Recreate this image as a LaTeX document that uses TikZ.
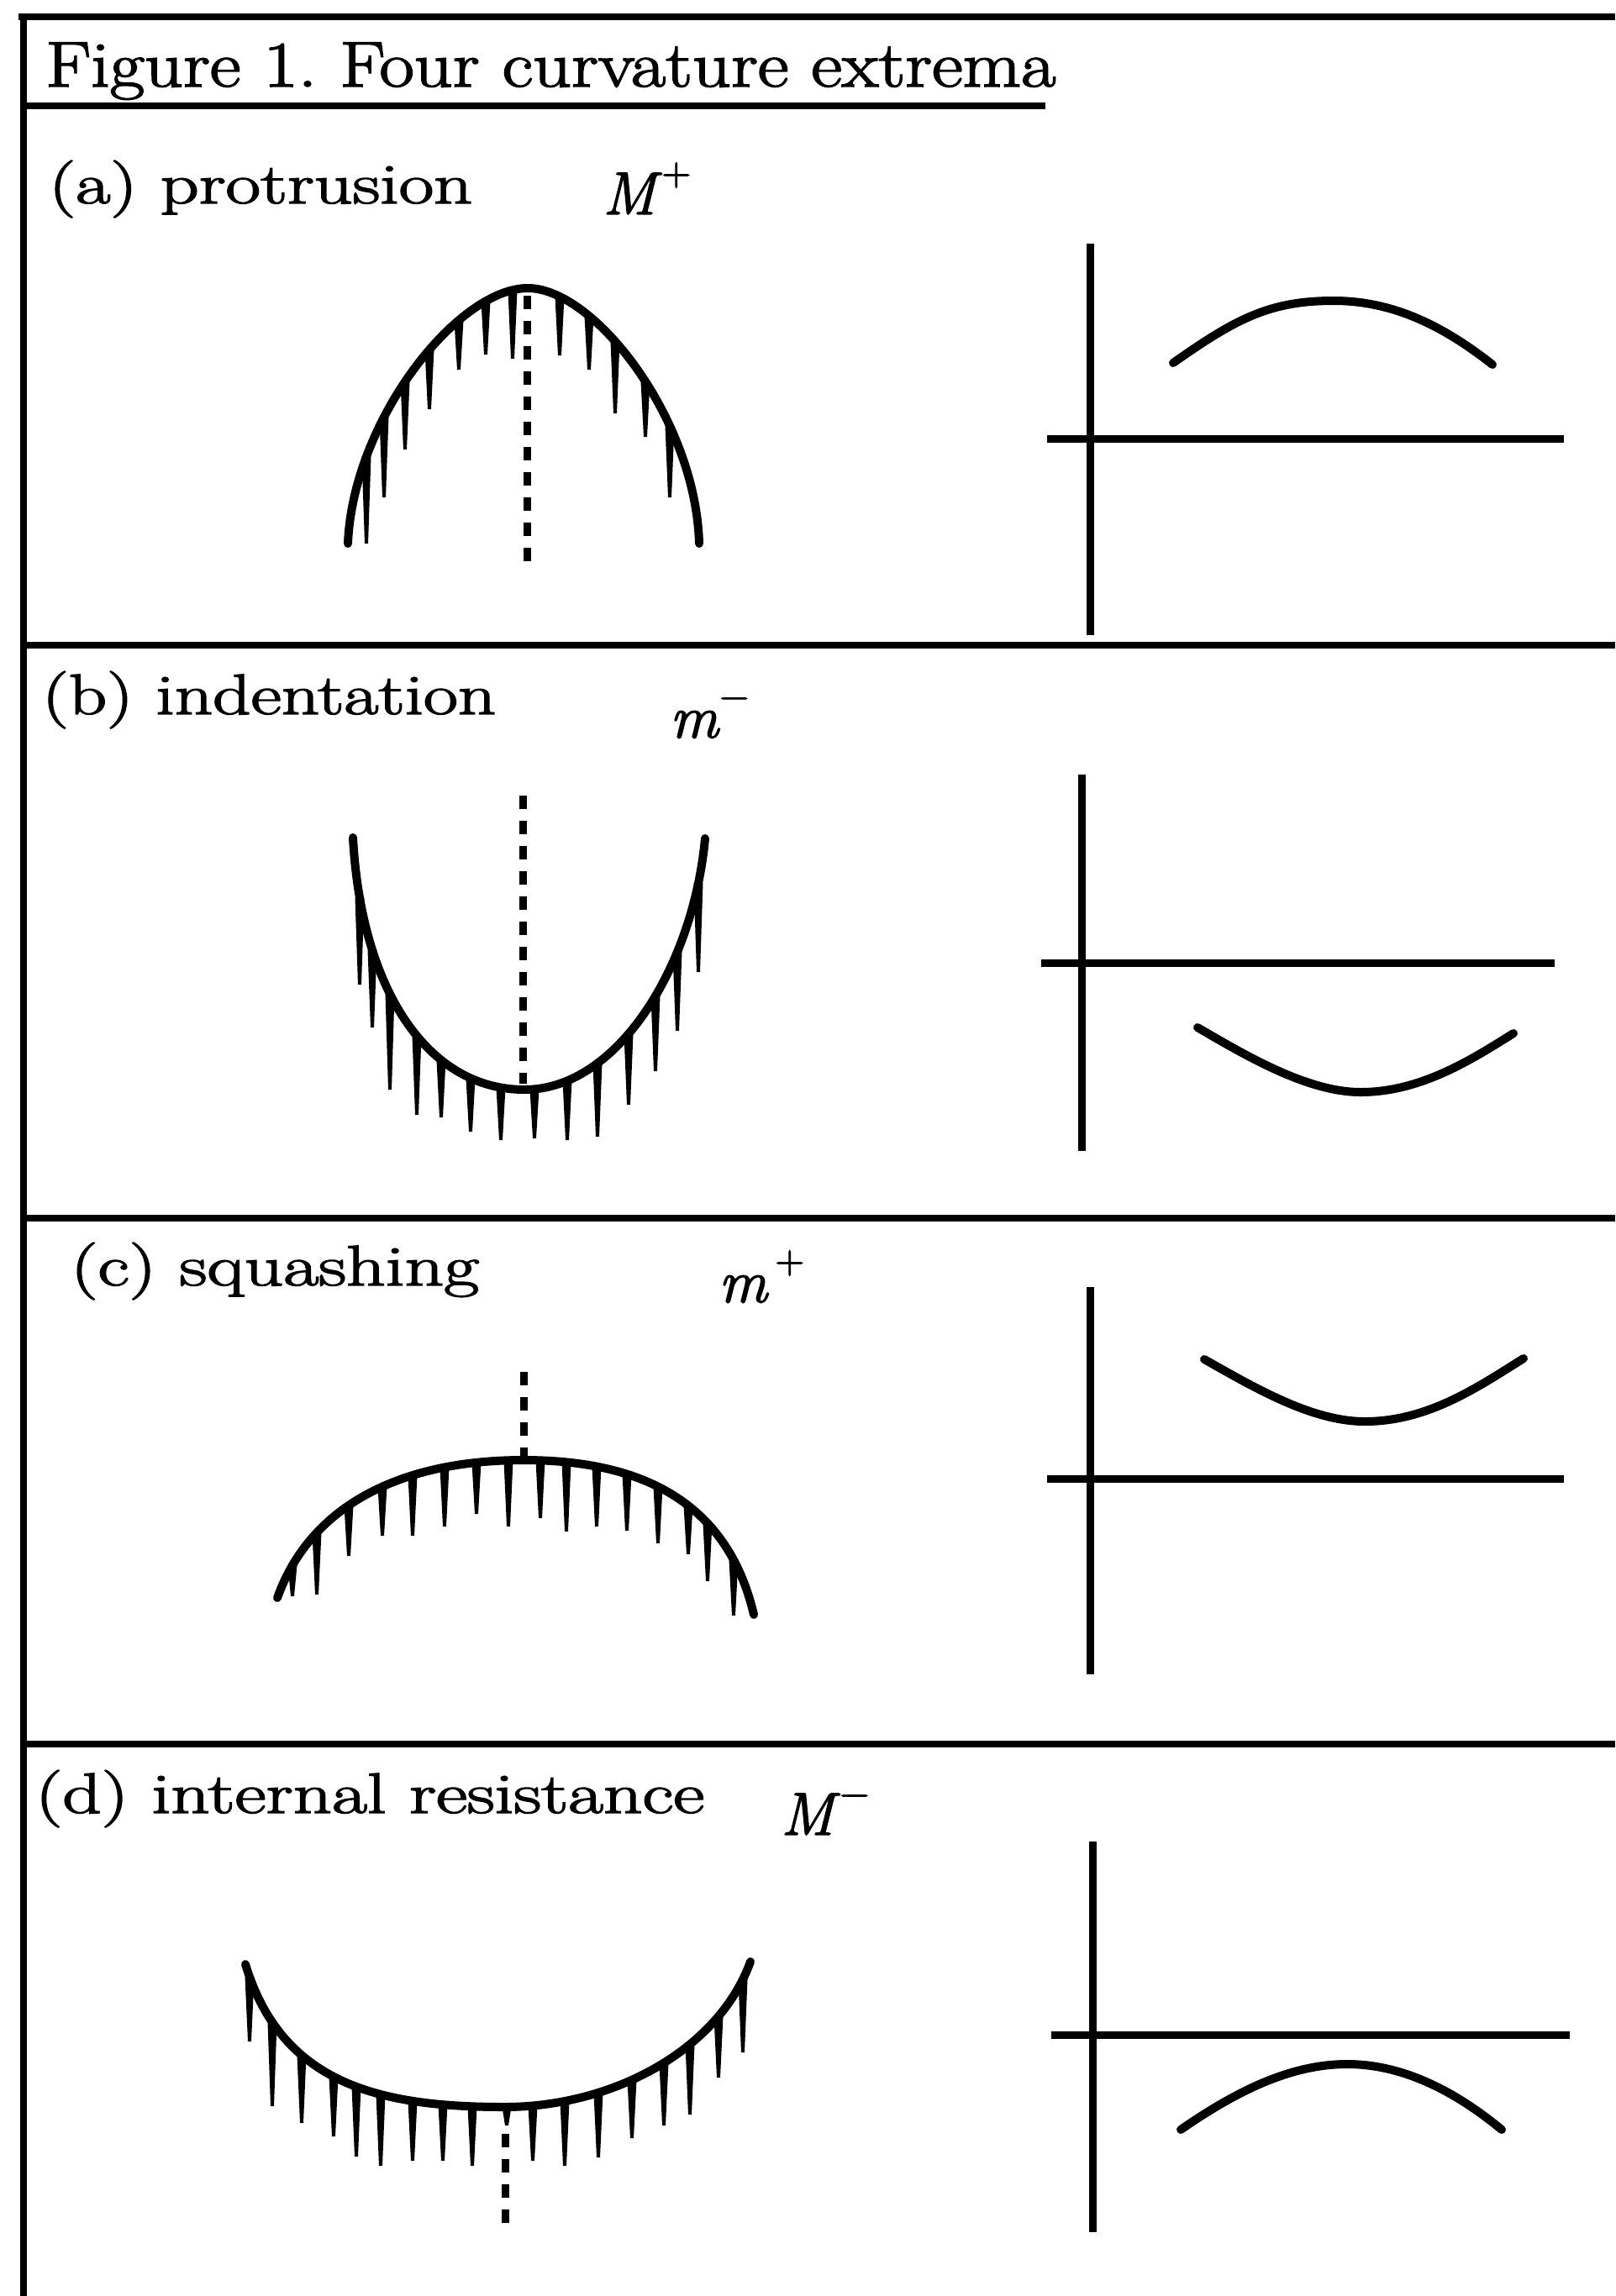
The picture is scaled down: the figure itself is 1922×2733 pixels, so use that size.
\documentclass[tikz,border=0pt]{standalone}
\usepackage{fontspec}
\usepackage{graphicx}
\newfontfamily\heavy{Latin Modern Roman}[FakeBold=2]
\frenchspacing
\usetikzlibrary{intersections,calc}
\tikzset{
  frameline/.style={line width=8pt},
  outline/.style={line width=10pt, line cap=round},
  axisline/.style={line width=9pt},
  gcurve/.style={line width=10pt, line cap=round},
  dotline/.style={line width=9pt, dash pattern=on 16pt off 14pt},
  lab/.style={anchor=base west, inner sep=0pt, font=\heavy\fontsize{68}{80}\selectfont},
  ttl/.style={anchor=base west, inner sep=0pt, font=\heavy\fontsize{77}{90}\selectfont},
  mth/.style={anchor=base west, inner sep=0pt, font=\heavy\fontsize{72}{86}\selectfont},
}
\newcommand\msup[2]{\textit{#1}\raisebox{0.48em}{\fontsize{48}{52}\selectfont #2}}
\newcommand\hairs[2]{%
  \foreach \hx/\ht in {#2}{%
    \path[name path=vl] (\hx,0) -- (\hx,2733);
    \fill[name intersections={of=#1 and vl, by=tp}]
      ($(tp)+(-5.5,0)$) -- ($(tp)+(5.5,0)$) -- ({\hx+2},\ht) -- ({\hx-2},\ht) -- cycle;
  }%
}
\begin{document}
\begin{tikzpicture}[x=1pt,y=-1pt]
\fill[white] (0,0) rectangle (1922,2733);
\useasboundingbox (0,0) rectangle (1922,2733);

% frame
\draw[frameline] (22,20) -- (1922,20);
\draw[frameline] (28,17) -- (28,2733);
\draw[frameline] (24,126) -- (1244,126);
\draw[frameline] (24,768) -- (1922,768);
\draw[frameline] (24,1450) -- (1922,1450);
\draw[frameline] (24,2076) -- (1922,2076);

% texts
\node[ttl] (title) at (54,103) {\resizebox{1202pt}{\height}{Figure 1. Four curvature extrema}};
\node[lab] (la) at (58,242) {\resizebox{504pt}{\height}{(a) protrusion}};
\node[lab] (lb) at (50,850) {\resizebox{540pt}{\height}{(b) indentation}};
\node[lab] (lc) at (84,1530) {\resizebox{486pt}{\height}{(c) squashing}};
\node[lab] (ld) at (42,2158) {\resizebox{796pt}{\height}{(d) internal resistance}};
\node[mth] (ma) at (717,255) {\msup{M}{+}};
\node[mth] (mb) at (797,878) {\msup{m}{−}};
\node[mth] (mc) at (855,1550) {\msup{m}{\,+}};
\node[mth] (md) at (929,2184) {\msup{M}{−}};

% (a) protrusion
\draw[outline, name path global=ca] (414,647) .. controls (420,500) and (545,343) .. (628,343)
  .. controls (708,343) and (828,500) .. (832,647);
\hairs{ca}{436/647, 457/592, 482/535, 511/487, 546/440, 578/422, 610/427, 666/423, 701/440, 732/492, 768/520, 797/592}
\draw[dotline] (627,352) -- (627,680);
\draw[axisline] (1297,290) -- (1297,756);
\draw[axisline] (1246,522) -- (1861,522);
\draw[gcurve] (1396,432) .. controls (1470,380) and (1510,358) .. (1587,358)
  .. controls (1660,358) and (1720,390) .. (1776,434);

% (b) indentation
\draw[outline, name path global=cb] (420,997) .. controls (430,1180) and (510,1297) .. (624,1297)
  .. controls (735,1297) and (825,1150) .. (839,998);
\hairs{cb}{428/1172, 443/1223, 464/1297, 496/1327, 525/1330, 560/1347, 596/1357, 636/1355, 675/1357, 711/1353, 748/1315, 780/1275, 806/1227, 831/1157}
\draw[dotline] (622,947) -- (622,1290);
\draw[axisline] (1287,922) -- (1287,1370);
\draw[axisline] (1239,1146) -- (1850,1146);
\draw[gcurve] (1425,1223) .. controls (1480,1255) and (1555,1300) .. (1619,1300)
  .. controls (1690,1300) and (1750,1262) .. (1801,1230);

% (c) squashing
\draw[outline, name path global=cc] (330,1902) .. controls (370,1790) and (480,1738) .. (623,1738)
  .. controls (760,1738) and (865,1785) .. (897,1922);
\hairs{cc}{348/1900, 377/1898, 415/1852, 455/1828, 491/1828, 529/1817, 567/1802, 605/1817, 643/1807, 674/1823, 710/1817, 746/1822, 783/1837, 819/1850, 842/1882, 873/1923}
\draw[dotline] (623,1633) -- (623,1738);
\draw[axisline] (1297,1532) -- (1297,1993);
\draw[axisline] (1246,1760) -- (1861,1760);
\draw[gcurve] (1433,1618) .. controls (1490,1650) and (1560,1692) .. (1624,1692)
  .. controls (1700,1692) and (1760,1650) .. (1813,1617);

% (d) internal resistance
\draw[outline, name path global=cd] (292,2338) .. controls (335,2480) and (450,2508) .. (600,2508)
  .. controls (730,2508) and (855,2440) .. (893,2335);
\hairs{cd}{297/2430, 324/2507, 359/2527, 397/2543, 424/2567, 453/2578, 491/2572, 527/2572, 562/2578, 603/2530, 634/2572, 672/2578, 712/2568, 752/2545, 790/2530, 821/2517, 855/2473, 884/2443}
\draw[dotline] (601,2540) -- (601,2652);
\draw[axisline] (1300,2192) -- (1300,2657);
\draw[axisline] (1251,2422) -- (1868,2422);
\draw[gcurve] (1405,2535) .. controls (1470,2490) and (1535,2457) .. (1603,2457)
  .. controls (1672,2457) and (1735,2492) .. (1787,2535);
\end{tikzpicture}
\end{document}
